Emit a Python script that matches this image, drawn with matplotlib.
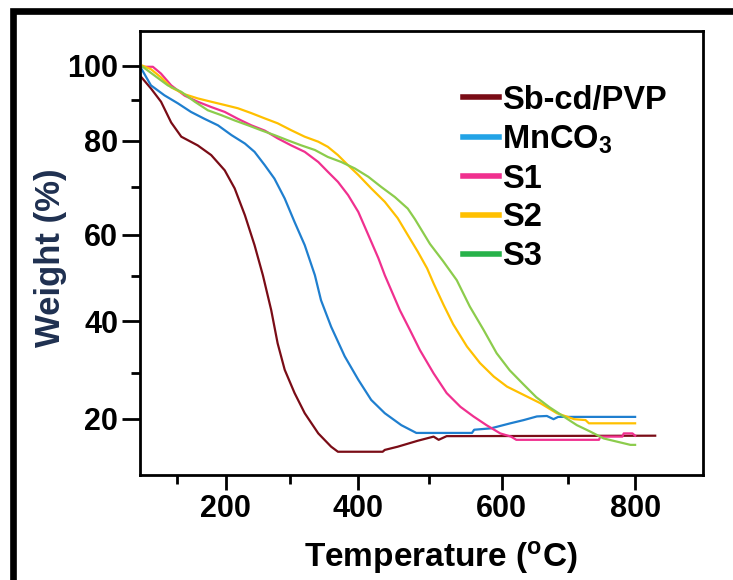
import numpy as np
import matplotlib
matplotlib.use('Agg')
import matplotlib.pyplot as plt
from matplotlib.lines import Line2D

plt.rcParams['font.family'] = ['Liberation Sans', 'DejaVu Sans']
plt.rcParams['font.weight'] = 'bold'
plt.rcParams['mathtext.fontset'] = 'custom'
plt.rcParams['mathtext.rm'] = 'Liberation Sans:bold'
plt.rcParams['mathtext.it'] = 'Liberation Sans:bold'
plt.rcParams['mathtext.bf'] = 'Liberation Sans:bold'

# ── data (temperature °C, weight %) ──────────────────────────────────────
sb_T = [25, 45, 66, 87, 108, 142, 170, 198, 214, 230, 245, 258, 271, 281, 292, 307,
        322, 342, 361, 371, 435, 438, 456, 484, 506, 513, 524, 830]
sb_W = [96.7, 93.4, 89.6, 84.5, 81.0, 79.0, 76.9, 73.6, 69.7, 64.1, 57.5, 50.1, 42.4,
        35.7, 30.6, 25.6, 21.2, 16.8, 13.9, 12.8, 12.8, 13.2, 13.9, 15.2, 16.1, 15.4,
        16.2, 16.3]

mn_T = [25, 45, 73, 101, 128, 156, 184, 209, 230, 245, 261, 276, 292, 307, 322, 337,
        346, 361, 381, 401, 419, 438, 461, 482, 559, 562, 585, 613, 633, 653, 668, 678,
        685, 800]
mn_W = [99.2, 94.3, 91.4, 89.2, 87.1, 85.4, 83.8, 81.4, 79.4, 77.6, 74.7, 71.8, 67.6,
        62.7, 57.5, 50.1, 44.6, 38.9, 33.2, 28.5, 24.1, 21.2, 18.6, 16.9, 16.9, 17.6,
        17.9, 19.0, 19.7, 20.5, 20.6, 19.9, 20.4, 20.4]

s1_T = [28, 49, 66, 87, 115, 142, 170, 198, 219, 240, 261, 281, 302, 322, 342, 356,
        371, 386, 401, 415, 429, 438, 459, 473, 487, 506, 524, 543, 561, 579, 598, 614,
        622, 746, 748, 781, 783, 796, 800]
s1_W = [99.7, 99.7, 97.7, 94.3, 91.3, 89.6, 88.3, 87.1, 85.4, 83.8, 82.5, 80.6, 79.0,
        77.6, 75.4, 73.3, 71.1, 68.3, 64.8, 60.0, 54.3, 50.1, 42.4, 38.3, 34.4, 29.9,
        25.6, 22.6, 20.5, 18.6, 16.8, 16.1, 15.4, 15.4, 16.1, 16.1, 16.8, 16.8, 16.3]

s2_T = [28, 45, 66, 87, 115, 142, 170, 198, 219, 240, 261, 281, 302, 322, 342, 356,
        371, 386, 401, 419, 438, 456, 470, 484, 497, 506, 520, 533, 552, 570, 589, 608,
        633, 658, 683, 709, 726, 731, 800]
s2_W = [100, 99.0, 96.6, 93.7, 91.7, 90.5, 89.6, 88.8, 88.0, 86.8, 85.5, 84.3, 82.6,
        81.0, 79.8, 78.7, 76.9, 74.7, 72.6, 69.7, 66.9, 63.5, 60.0, 55.9, 51.8, 48.3,
        43.5, 39.4, 35.1, 31.9, 29.2, 27.0, 25.2, 23.4, 21.2, 19.9, 19.7, 19.0, 19.0]

s3_T = [28, 52, 80, 108, 136, 163, 191, 214, 235, 255, 276, 297, 317, 337, 356, 376,
        396, 415, 433, 452, 470, 480, 501, 519, 538, 556, 575, 593, 612, 632, 652, 672,
        694, 713, 733, 753, 773, 793, 800]
s3_W = [99.7, 97.2, 94.3, 92.4, 89.6, 87.5, 86.3, 85.0, 83.8, 82.6, 81.4, 80.1, 79.0,
        78.0, 76.5, 75.4, 74.0, 72.2, 70.0, 67.9, 65.5, 63.3, 57.8, 53.6, 49.0, 43.2,
        38.3, 33.8, 30.5, 27.6, 24.7, 22.5, 20.4, 18.6, 17.2, 15.7, 15.0, 14.3, 14.3]

labels = ['Sb-cd/PVP', r'MnCO$_3$', 'S1', 'S2', 'S3']
line_colors = ['#7a0c16', '#1f7fcf', '#f0308f', '#ffc000', '#8ccc4c']
key_colors = ['#7a0c16', '#22a3e6', '#f0308f', '#ffc000', '#27b24a']

# the printed axes are not evenly spaced: calibrate scale on the tick marks
T_TICKS = [100, 200, 300, 400, 500, 600, 700, 800]
T_MARKS = [177.6, 225.8, 289.9, 357.6, 429.2, 501.6, 568.0, 634.9]
W_TICKS = [20, 30, 40, 50, 60, 70, 80, 90, 100]
W_MARKS = [-418.8, -372.9, -321.1, -275.6, -234.9, -186.8, -140.6, -99.9, -65.5]


def warp(ticks, marks):
    t = np.asarray(ticks, float)
    m = np.asarray(marks, float)
    lo = (m[1] - m[0]) / (t[1] - t[0])
    hi = (m[-1] - m[-2]) / (t[-1] - t[-2])
    t = np.r_[t[0] - 1e4, t, t[-1] + 1e4]
    m = np.r_[m[0] - 1e4 * lo, m, m[-1] + 1e4 * hi]
    return (lambda v: np.interp(v, t, m)), (lambda u: np.interp(u, m, t))


fig = plt.figure(figsize=(7.33, 5.8), dpi=100)
ax = fig.add_axes([0.1914, 0.1816, 0.7673, 0.7643])
ax.set_xscale('function', functions=warp(T_TICKS, T_MARKS))
ax.set_yscale('function', functions=warp(W_TICKS, W_MARKS))

series = [(sb_T, sb_W), (mn_T, mn_W), (s1_T, s1_W), (s2_T, s2_W), (s3_T, s3_W)]
for (T, W), lab, c in zip(series, labels, line_colors):
    ax.plot(T, W, color=c, lw=1.6, label=lab)

ax.set_xlim(23, 901)
ax.set_ylim(7.8, 110)

ax.set_xticks([200, 400, 600, 800])
ax.set_xticks([100, 300, 500, 700], minor=True)
ax.set_yticks([20, 40, 60, 80, 100])
ax.set_yticks([30, 50, 70, 90], minor=True)
ax.tick_params(axis='y', which='major', length=13, width=2, labelsize=22, pad=3)
ax.tick_params(axis='x', which='major', length=11, width=2, labelsize=22, pad=3)
ax.tick_params(which='minor', length=6.5, width=2)
for s in ax.spines.values():
    s.set_linewidth(2)

ax.set_xlabel(r'Temperature ($^\mathrm{o}$C)', fontsize=24, fontweight='bold')
ax.xaxis.set_label_coords(0.535, -0.145)
ax.set_ylabel('Weight (%)', fontsize=25, fontweight='bold', color='#1f3050')
ax.yaxis.set_label_coords(-0.13, 0.49)

leg = ax.legend(loc='upper left', bbox_to_anchor=(0.574, 0.88), frameon=False,
                fontsize=23.5, handlelength=1.1, handletextpad=0.1,
                labelspacing=0.24, borderpad=0, borderaxespad=0)
for h, c in zip(leg.legend_handles, key_colors):
    h.set_color(c)
    h.set_linewidth(4)

# outer frame of the original panel
fig.add_artist(Line2D([13 / 733, 13 / 733, 1.05], [-0.05, 1 - 11 / 580, 1 - 11 / 580],
                      transform=fig.transFigure, color='black', lw=4.8,
                      solid_joinstyle='miter', clip_on=False))

fig.savefig('out.png', dpi=100)
